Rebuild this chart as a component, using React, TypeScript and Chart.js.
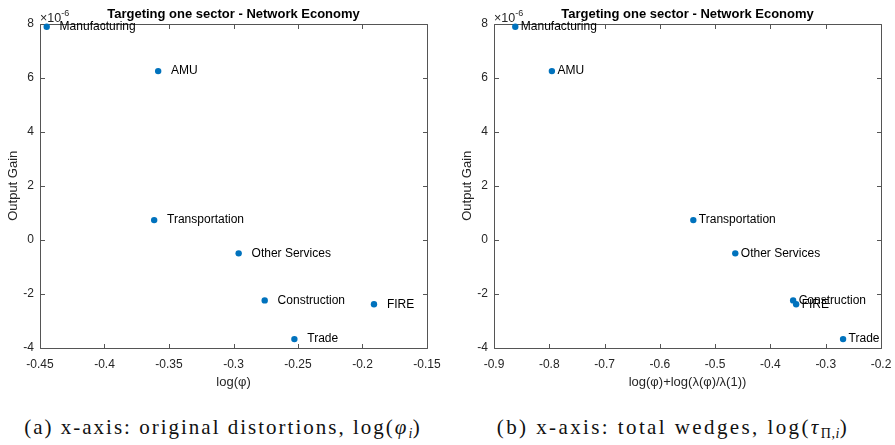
import React, { useEffect, useRef } from 'react';
import { Chart, registerables } from 'chart.js';

Chart.register(...registerables);

// Sectors and their results
const sectors = ['Manufacturing', 'AMU', 'Transportation', 'Other Services', 'Construction', 'FIRE', 'Trade'];
const logPhi = [-0.4448, -0.3584, -0.3615, -0.296, -0.2758, -0.1911, -0.2528];
const logTotalWedge = [-0.8615, -0.7953, -0.5395, -0.4636, -0.3589, -0.3535, -0.2686];
const outputGain = [7.88e-6, 6.24e-6, 0.73e-6, -0.5e-6, -2.24e-6, -2.38e-6, -3.67e-6];

// Axis ticks
const phiTicks = [-0.45, -0.4, -0.35, -0.3, -0.25, -0.2, -0.15];
const wedgeTicks = [-0.9, -0.8, -0.7, -0.6, -0.5, -0.4, -0.3, -0.2];
const gainTicks = [-4e-6, -2e-6, 0, 2e-6, 4e-6, 6e-6, 8e-6];
const gainScale = 1e-6;
const gainExponent = '-6';

// Text
const chartTitle = 'Targeting one sector - Network Economy';
const yLabel = 'Output Gain';
const phiLabel = 'log(φ)';
const wedgeLabel = 'log(φ)+log(λ(φ)/λ(1))';

// Sector names sit this far to the right of their point (x data units)
const labelShift = 0.01;

const SANS = '"Liberation Sans", Arial, Helvetica, sans-serif';
const SERIF = '"Liberation Serif", "Times New Roman", serif';
const AXIS_COLOR = '#262626';
const BOX_COLOR = '#555555';
const MARKER = '#0072BD';

const W = 441;
const H = 400;

function fmtTick(v: number): string {
  return String(Number(v.toFixed(2)));
}

function makeDecorations(xs: number[]) {
  return {
    id: 'decorations',
    beforeDatasetsDraw(chart: any) {
      const { ctx, chartArea: a, scales } = chart;
      const x = scales.x;
      const y = scales.y;
      const L = Math.round(a.left) + 0.5;
      const R = Math.round(a.right) + 0.5;
      const T = Math.round(a.top) + 0.5;
      const B = Math.round(a.bottom) + 0.5;
      const tl = 4.5;
      ctx.save();
      ctx.strokeStyle = BOX_COLOR;
      ctx.lineWidth = 1;
      ctx.beginPath();
      ctx.rect(L, T, R - L, B - T);
      x.ticks.forEach((t: any) => {
        const p = Math.round(x.getPixelForValue(t.value)) + 0.5;
        ctx.moveTo(p, B);
        ctx.lineTo(p, B - tl);
        ctx.moveTo(p, T);
        ctx.lineTo(p, T + tl);
      });
      y.ticks.forEach((t: any) => {
        const p = Math.round(y.getPixelForValue(t.value)) + 0.5;
        ctx.moveTo(L, p);
        ctx.lineTo(L + tl, p);
        ctx.moveTo(R, p);
        ctx.lineTo(R - tl, p);
      });
      ctx.stroke();

      // exponent above the y axis
      ctx.fillStyle = AXIS_COLOR;
      ctx.textAlign = 'left';
      ctx.textBaseline = 'alphabetic';
      ctx.font = `12.5px ${SANS}`;
      const base = '×10';
      ctx.fillText(base, a.left, a.top - 1.5);
      const bw = ctx.measureText(base).width;
      ctx.font = `9px ${SANS}`;
      ctx.fillText(gainExponent, a.left + bw, a.top - 7.5);

      // title
      ctx.fillStyle = '#000000';
      ctx.font = `bold 13px ${SANS}`;
      ctx.textAlign = 'center';
      ctx.textBaseline = 'middle';
      ctx.fillText(chartTitle, (a.left + a.right) / 2, 14);
      ctx.restore();
    },
    afterDatasetsDraw(chart: any) {
      const { ctx, scales } = chart;
      ctx.save();
      ctx.fillStyle = '#000000';
      ctx.font = `12px ${SANS}`;
      ctx.textAlign = 'left';
      ctx.textBaseline = 'middle';
      sectors.forEach((name, i) => {
        const px = scales.x.getPixelForValue(xs[i] + labelShift);
        const py = scales.y.getPixelForValue(outputGain[i]);
        ctx.fillText(name, px, py);
      });
      ctx.restore();
    },
  };
}

function Panel(props: { xs: number[]; xTicks: number[]; xLabel: string }) {
  const ref = useRef<HTMLCanvasElement | null>(null);
  const { xs, xTicks, xLabel } = props;

  useEffect(() => {
    if (!ref.current) return;
    const tickFont = { family: SANS, size: 12 };
    const labelFont = { family: SANS, size: 13 };
    const chart = new Chart(ref.current, {
      type: 'scatter',
      data: {
        datasets: [
          {
            data: xs.map((v, i) => ({ x: v, y: outputGain[i] })),
            backgroundColor: MARKER,
            borderWidth: 0,
            pointRadius: 3.2,
            pointHoverRadius: 3.2,
            clip: false as any,
          },
        ],
      },
      options: {
        responsive: false,
        animation: false,
        events: [],
        layout: { padding: { top: 23.5, right: 14, left: 0, bottom: 0 } },
        plugins: {
          legend: { display: false },
          tooltip: { enabled: false },
          title: { display: false },
        },
        scales: {
          x: {
            type: 'linear',
            min: xTicks[0],
            max: xTicks[xTicks.length - 1],
            afterBuildTicks: (s: any) => {
              s.ticks = xTicks.map((value) => ({ value }));
            },
            afterFit: (s: any) => {
              s.height = 52;
              s.paddingLeft = 0;
              s.paddingRight = 0;
            },
            grid: { display: false, drawTicks: false },
            border: { display: false },
            ticks: {
              autoSkip: false,
              maxRotation: 0,
              padding: 9,
              color: AXIS_COLOR,
              font: tickFont,
              callback: (v: any) => fmtTick(Number(v)),
            },
            title: {
              display: true,
              text: xLabel,
              color: AXIS_COLOR,
              font: labelFont,
              padding: { top: 0, bottom: 9.5 },
            },
          },
          y: {
            type: 'linear',
            min: gainTicks[0],
            max: gainTicks[gainTicks.length - 1],
            afterBuildTicks: (s: any) => {
              s.ticks = gainTicks.map((value) => ({ value }));
            },
            afterFit: (s: any) => {
              s.width = 40;
              s.paddingTop = 0;
              s.paddingBottom = 0;
            },
            grid: { display: false, drawTicks: false },
            border: { display: false },
            ticks: {
              autoSkip: false,
              padding: 6,
              color: AXIS_COLOR,
              font: tickFont,
              callback: (v: any) => String(Math.round(Number(v) / gainScale)),
            },
            title: {
              display: true,
              text: yLabel,
              color: AXIS_COLOR,
              font: labelFont,
              padding: { top: 5.5, bottom: 0 },
            },
          },
        },
      } as any,
      plugins: [makeDecorations(xs)],
    });
    return () => chart.destroy();
  }, [xs, xTicks, xLabel]);

  return <canvas ref={ref} width={W} height={H} style={{ display: 'block', width: W, height: H }} />;
}

const captionStyle: React.CSSProperties = {
  position: 'absolute',
  top: 414,
  width: 440,
  textAlign: 'center',
  fontFamily: SERIF,
  fontSize: 21,
  lineHeight: '26px',
  letterSpacing: '2px',
  color: '#111',
  whiteSpace: 'nowrap',
};

const subStyle: React.CSSProperties = {
  fontSize: 14,
  verticalAlign: '-4px',
  lineHeight: 0,
  letterSpacing: '0.5px',
};

export default function App() {
  useEffect(() => {
    document.body.style.margin = '0';
    document.body.style.overflow = 'hidden';
  }, []);

  return (
    <div style={{ position: 'relative', width: 895, height: 445, background: '#fff', overflow: 'hidden' }}>
      <div style={{ position: 'absolute', left: 0, top: 0 }}>
        <Panel xs={logPhi} xTicks={phiTicks} xLabel={phiLabel} />
      </div>
      <div style={{ position: 'absolute', left: 454, top: 0 }}>
        <Panel xs={logTotalWedge} xTicks={wedgeTicks} xLabel={wedgeLabel} />
      </div>
      <div style={{ ...captionStyle, left: 223 - 220 }}>
        (a) x-axis: original distortions, log(<i>φ</i>
        <span style={subStyle}>
          <i>i</i>
        </span>
        )
      </div>
      <div style={{ ...captionStyle, left: 673 - 220, letterSpacing: '2.4px' }}>
        (b) x-axis: total wedges, log(<i>τ</i>
        <span style={subStyle}>
          Π,<i>i</i>
        </span>
        )
      </div>
    </div>
  );
}
